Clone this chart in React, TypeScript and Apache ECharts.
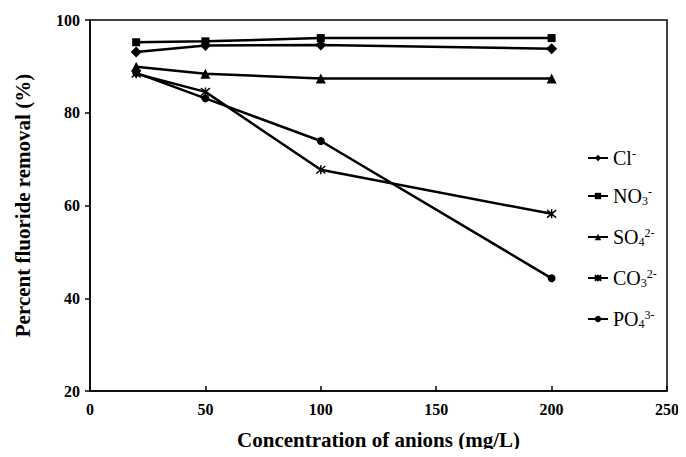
import React, { useEffect, useRef } from "react";
import * as echarts from "echarts";

const concentrations = [20, 50, 100, 200];
const clValues = [93.1, 94.5, 94.6, 93.8];
const no3Values = [95.2, 95.4, 96.1, 96.1];
const so4Values = [89.9, 88.4, 87.4, 87.4];
const co3Values = [88.4, 84.5, 67.7, 58.2];
const po4Values = [88.6, 83.1, 73.9, 44.3];

const seriesNames = ["Cl", "NO3", "SO4", "CO3", "PO4"];
const legendLabels: Record<string, string> = {
  Cl: "{n|Cl}{sp|-}",
  NO3: "{n|NO}{sb|3}{sp|-}",
  SO4: "{n|SO}{sb|4}{sp|2-}",
  CO3: "{n|CO}{sb|3}{sp|2-}",
  PO4: "{n|PO}{sb|4}{sp|3-}",
};

const FONT = "'Liberation Serif', 'DejaVu Serif', serif";
const ASTERISK = "path://M0,0L10,10M10,0L0,10M5,-1L5,11";

export default function App() {
  const ref = useRef<HTMLDivElement>(null);
  useEffect(() => {
    if (!ref.current) return;
    const chart = echarts.init(ref.current, null, { renderer: "svg" });
    const mk = (name: string, data: number[], symbol: string, size: number, extra: any = {}) => ({
      name,
      type: "line",
      data: concentrations.map((x, i) => [x, data[i]]),
      symbol,
      symbolSize: size,
      lineStyle: { color: "#000", width: 2.5 },
      itemStyle: { color: "#000", borderColor: "#000", borderWidth: 0, ...extra },
      emphasis: { disabled: true },
    });
    chart.setOption({
      animation: false,
      backgroundColor: "#fff",
      grid: {
        left: 90,
        right: 19,
        top: 20,
        bottom: 66,
        show: true,
        borderColor: "#000",
        borderWidth: 1.5,
        backgroundColor: "transparent",
      },
      xAxis: {
        type: "value",
        min: 0,
        max: 250,
        interval: 50,
        name: "Concentration of anions (mg/L)",
        nameLocation: "middle",
        nameGap: 38,
        nameTextStyle: { fontFamily: FONT, fontWeight: "bold", fontSize: 21, color: "#000" },
        axisLine: { show: true, lineStyle: { color: "#000", width: 1.5 } },
        axisTick: { show: true, inside: true, length: 5, lineStyle: { color: "#000", width: 1.5 } },
        axisLabel: { fontFamily: FONT, fontWeight: "bold", fontSize: 16, color: "#000", margin: 10 },
        splitLine: { show: false },
      },
      yAxis: {
        type: "value",
        min: 20,
        max: 100,
        interval: 20,
        name: "Percent fluoride removal (%)",
        nameLocation: "middle",
        nameGap: 57,
        nameTextStyle: { fontFamily: FONT, fontWeight: "bold", fontSize: 21, color: "#000" },
        axisLine: { show: true, lineStyle: { color: "#000", width: 1.5 } },
        axisTick: { show: true, inside: false, length: 5, lineStyle: { color: "#000", width: 1.5 } },
        axisLabel: { fontFamily: FONT, fontWeight: "bold", fontSize: 16, color: "#000", margin: 10 },
        splitLine: { show: false },
      },
      legend: {
        orient: "vertical",
        left: 582,
        top: 140,
        itemGap: 15,
        itemWidth: 20,
        itemHeight: 8,
        data: seriesNames,
        formatter: (name: string) => legendLabels[name],
        textStyle: {
          color: "#000",
          fontFamily: FONT,
          rich: {
            n: { fontFamily: FONT, fontSize: 20, color: "#000", lineHeight: 26, verticalAlign: "middle" },
            sb: { fontFamily: FONT, fontSize: 12, color: "#000", lineHeight: 26, verticalAlign: "bottom", padding: [0, 0, 2, 0] },
            sp: { fontFamily: FONT, fontSize: 12, color: "#000", lineHeight: 26, verticalAlign: "top", padding: [3, 0, 0, 0] },
          },
        },
      },
      series: [
        mk("Cl", clValues, "diamond", 11),
        mk("NO3", no3Values, "rect", 8),
        mk("SO4", so4Values, "triangle", 10),
        mk("CO3", co3Values, ASTERISK, 9, { color: "none", borderColor: "#000", borderWidth: 1.5 }),
        mk("PO4", po4Values, "circle", 8),
      ],
    });
    return () => chart.dispose();
  }, []);
  return <div ref={ref} style={{ width: 686, height: 457, margin: -8 }} />;
}
